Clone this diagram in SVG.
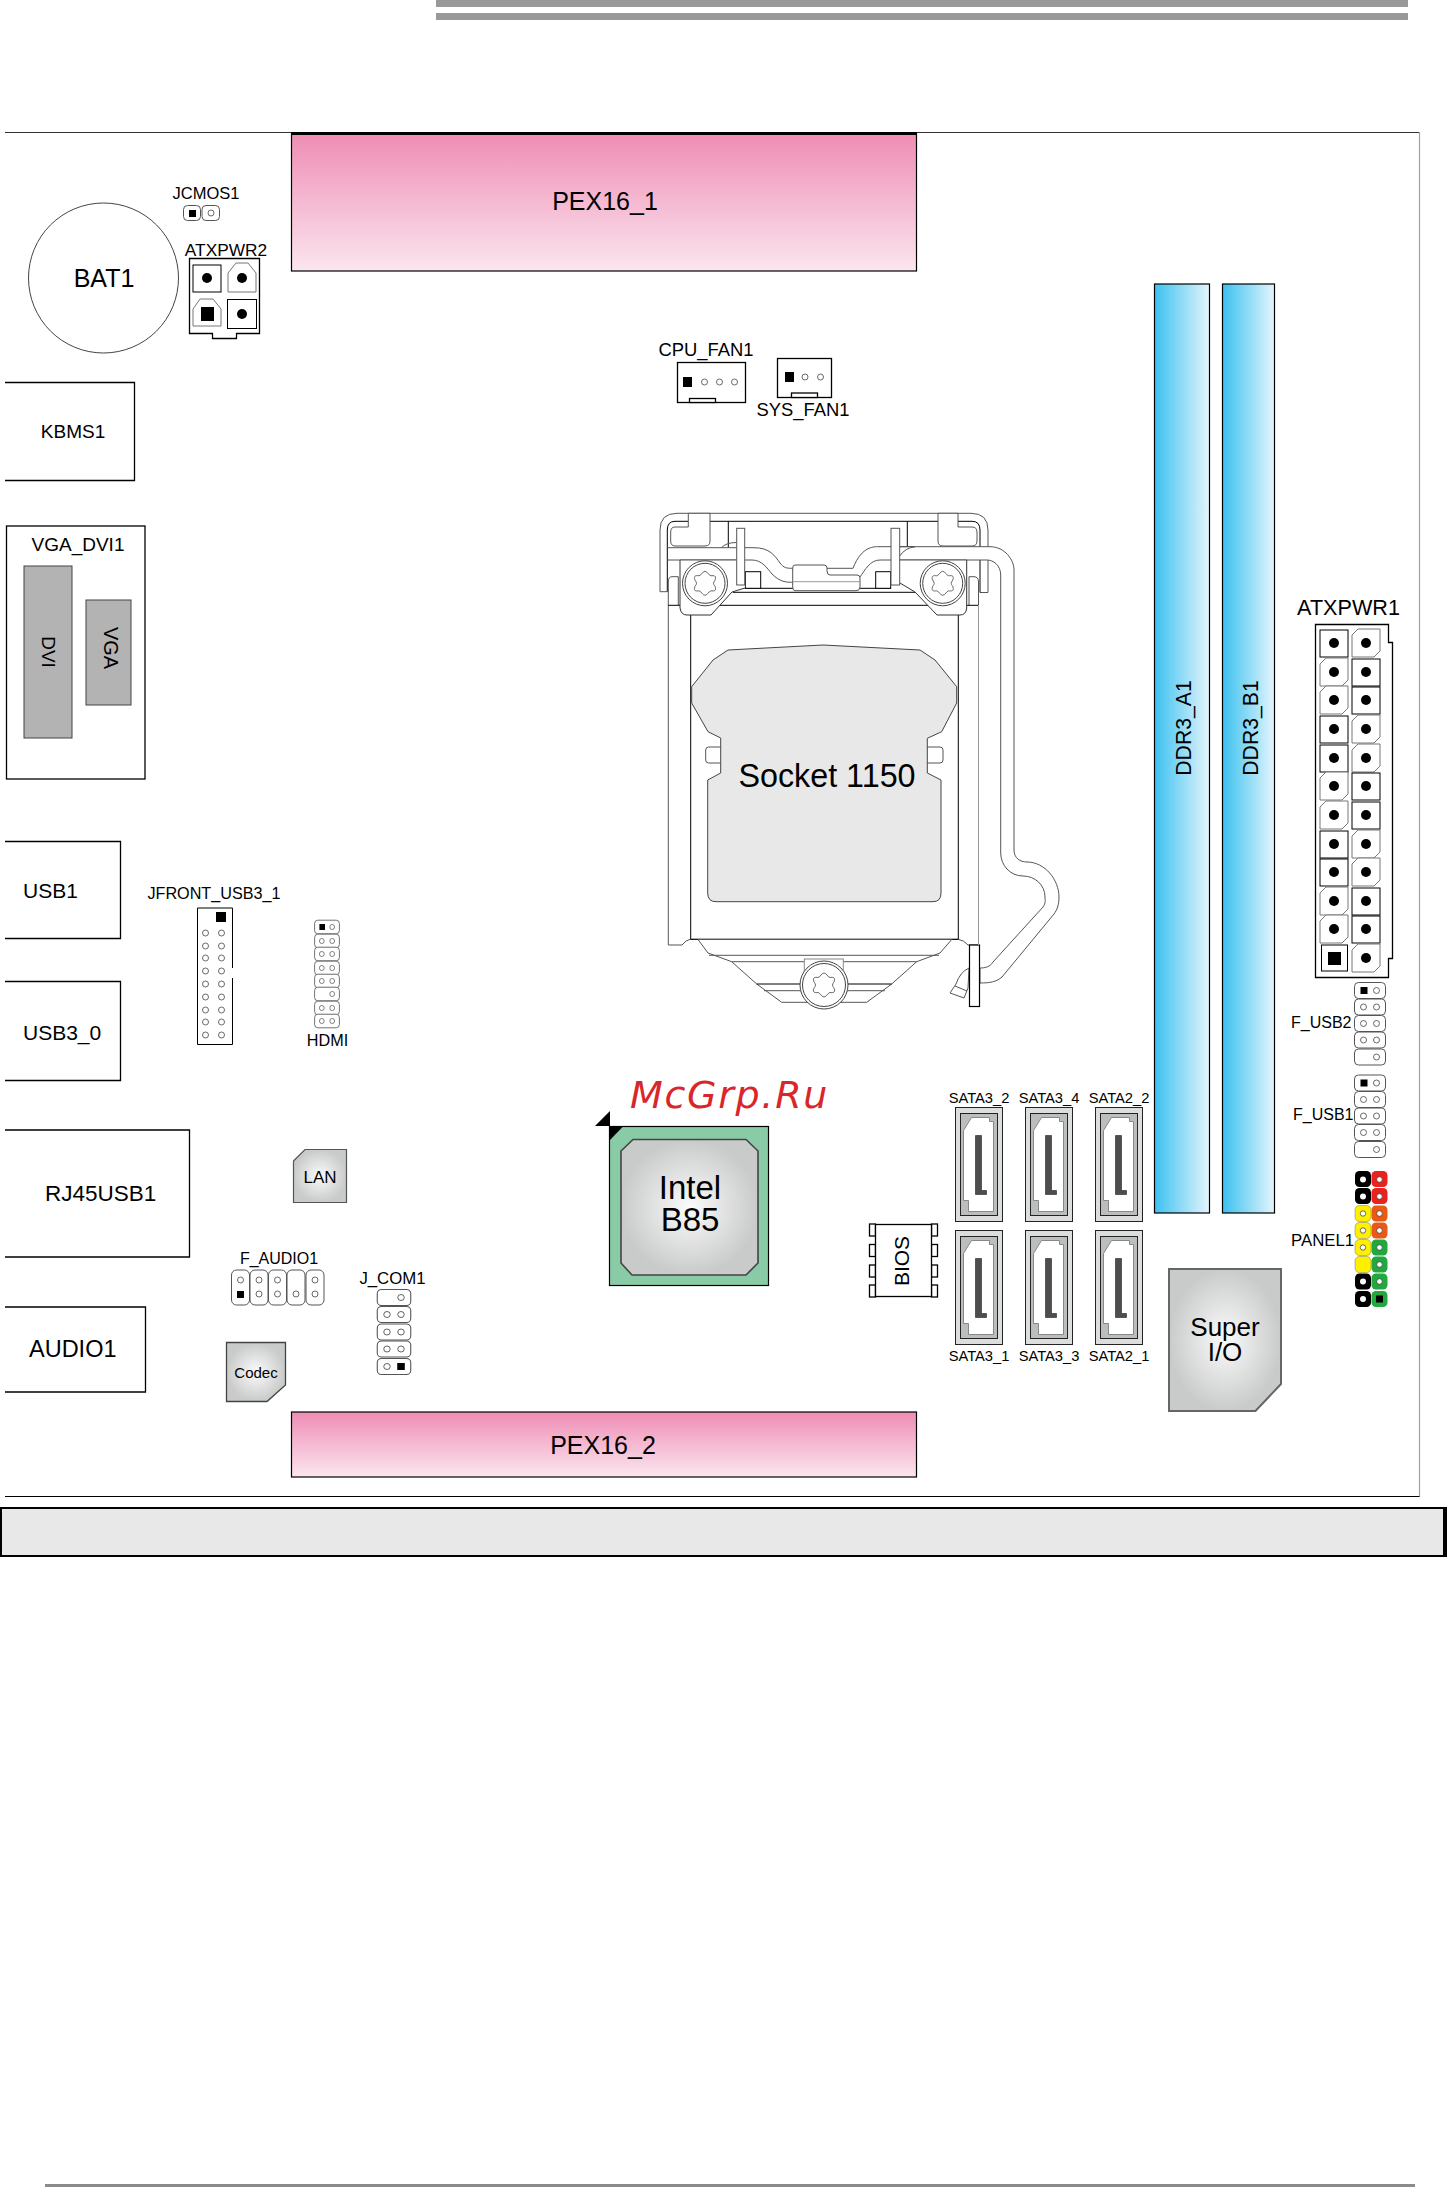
<svg xmlns="http://www.w3.org/2000/svg" xmlns:xlink="http://www.w3.org/1999/xlink" width="1447" height="2187" viewBox="0 0 1447 2187">
<style>
text{font-family:"Liberation Sans",Arial,sans-serif;fill:#000}
.m{text-anchor:middle}
.box{fill:#fff;stroke:#000;stroke-width:1.300}
.hd{fill:#fff;stroke:#555;stroke-width:1}
.p{fill:#fff;stroke:#444;stroke-width:.8}
.w{fill:#fff;stroke:#555;stroke-width:1}
.n{fill:none;stroke:#555;stroke-width:1}
.k{fill:none;stroke:#000;stroke-width:1}
</style>
<defs>
<linearGradient id="pink" x1="0" y1="0" x2="0" y2="1"><stop offset="0" stop-color="#ef8db5"/><stop offset="1" stop-color="#fbe6ef"/></linearGradient>
<linearGradient id="blue" x1="0" y1="0" x2="1" y2="0"><stop offset="0" stop-color="#3cc1f0"/><stop offset="1" stop-color="#e4f5fc"/></linearGradient>
<radialGradient id="chip"><stop offset="0" stop-color="#fbfbfb"/><stop offset="1" stop-color="#c9caca"/></radialGradient>
<g id="star"><path d="M0,-12 C2.500,-12 3.500,-8 6,-7.500 C9,-8 11,-7.500 10.500,-5 C10.500,-2.500 8.500,-2 8.500,0 C8.500,2 10.500,2.500 10.500,5 C11,7.500 9,8 6,7.500 C3.500,8 2.500,12 0,12 C-2.500,12 -3.500,8 -6,7.500 C-9,8 -11,7.500 -10.500,5 C-10.500,2.500 -8.500,2 -8.500,0 C-8.500,-2 -10.500,-2.500 -10.500,-5 C-11,-7.500 -9,-8 -6,-7.500 C-3.500,-8 -2.500,-12 0,-12Z" fill="#fff" stroke="#444" stroke-width=".8"/></g>
<g id="sata">
<rect x="0" y="0" width="47" height="114" fill="#dcdddd" stroke="#222" stroke-width="1"/>
<rect x="5" y="6" width="37" height="102" fill="#bcbdbd" stroke="#222" stroke-width="1"/>
<path d="M16,10 H34 V14 H38 V104 H13 V93 H8 V23Z" fill="#fff" stroke="#888" stroke-width="1"/>
<path d="M20,28 H26 V83 H31 V87 H20Z" fill="#4d4d4d" stroke="#222" stroke-width=".6"/>
</g>
<g id="sq"><rect x="-14" y="-13" width="28" height="27" fill="#fff" stroke="#000" stroke-width="1"/><circle r="5" fill="#000"/></g>
<g id="oc"><path d="M-14,-8 L-8,-14 H14 V8 L8,14 H-14Z" fill="#fff" stroke="#777" stroke-width="1"/><circle r="5" fill="#000"/></g>
<g id="pair"><rect x="-15.500" y="-8" width="31" height="16" rx="4" class="hd"/><circle cx="-6.500" r="3" class="p"/><circle cx="6.500" r="3" class="p"/></g>
<g id="pairR"><rect x="-15.500" y="-8" width="31" height="16" rx="4" class="hd"/><circle cx="6.500" r="3" class="p"/></g>
<g id="pairF"><rect x="-15.500" y="-8" width="31" height="16" rx="4" class="hd"/><rect x="-9.500" y="-3.500" width="7" height="7" fill="#000"/><circle cx="6.500" r="3" class="p"/></g>
</defs>

<g id="page-rules">
<rect x="436" y="0" width="972" height="7" fill="#999"/>
<rect x="436" y="13" width="972" height="7" fill="#999"/>
<rect x="45" y="2184" width="1370" height="3" fill="#8a8a8a"/>
</g>

<g id="board"><path d="M5,132.500 H1419.500" fill="none" stroke="#333" stroke-width="1"/><path d="M1419.500,132.500 V1496.500" fill="none" stroke="#a0a0a0" stroke-width="1.200"/><path d="M5,1496.500 H1419.500" fill="none" stroke="#000" stroke-width="1.200"/></g>

<g id="PEX16_1"><rect x="291.500" y="134" width="625" height="137" fill="url(#pink)" stroke="#000" stroke-width="1.200"/><line x1="291" y1="133.500" x2="917" y2="133.500" stroke="#000" stroke-width="3"/><text class="m" x="605" y="210" font-size="25">PEX16_1</text></g>
<g id="PEX16_2"><rect x="291.500" y="1412" width="625" height="65" fill="url(#pink)" stroke="#000" stroke-width="1.200"/><text class="m" x="603" y="1454" font-size="25">PEX16_2</text></g>

<g id="BAT1"><circle cx="103.500" cy="278" r="75" fill="#fff" stroke="#444" stroke-width="1"/><text class="m" x="104" y="287" font-size="25">BAT1</text></g>

<g id="JCMOS1"><text class="m" x="206" y="199" font-size="16.500">JCMOS1</text>
<rect x="183.500" y="205.500" width="17" height="15" rx="4" class="hd"/><rect x="189" y="210" width="7" height="7" fill="#000"/>
<rect x="202" y="205.500" width="17.500" height="15" rx="4" class="hd"/><circle cx="211" cy="213" r="3" class="p"/></g>

<g id="ATXPWR2"><text class="m" x="226" y="256" font-size="17.300">ATXPWR2</text>
<path d="M189.500,258.500 H259.500 V333.500 H236.500 V338.500 H212.500 V333.500 H189.500Z" class="box"/>
<use xlink:href="#sq" x="207" y="278"/>
<path d="M228,292 V273 L236,263 H248 L256,273 V292Z" fill="#fff" stroke="#777"/><circle cx="242" cy="278" r="5"/>
<path d="M193,326 V309 L200,299 H213 L221,309 V326Z" fill="#fff" stroke="#777"/><rect x="201" y="307" width="13" height="14" fill="#000"/>
<rect x="227.500" y="299.500" width="29" height="29" fill="#fff" stroke="#000"/><circle cx="242" cy="314" r="5"/>
</g>

<g id="KBMS1"><path d="M5,382.500 H134.500 V480.500 H5" class="box"/><text class="m" x="73" y="438" font-size="19">KBMS1</text></g>

<g id="VGA_DVI1"><rect x="6.500" y="526" width="138.500" height="253" class="box"/>
<text class="m" x="78" y="551" font-size="19">VGA_DVI1</text>
<rect x="24" y="566" width="48" height="172" fill="#b3b3b3" stroke="#444"/>
<text class="m" font-size="19" transform="translate(49,652) rotate(90)" y="7">DVI</text>
<rect x="86" y="600" width="45" height="105" fill="#b3b3b3" stroke="#444"/>
<text class="m" font-size="20" transform="translate(111,648) rotate(90)" y="7">VGA</text></g>

<g id="USB1"><path d="M5,841.500 H120.500 V938.500 H5" class="box"/><text x="23" y="898" font-size="21">USB1</text></g>
<g id="USB3_0"><path d="M5,981.500 H120.500 V1080.500 H5" class="box"/><text x="23" y="1040" font-size="21">USB3_0</text></g>
<g id="RJ45USB1"><path d="M5,1130 H189.500 V1257 H5" class="box"/><text x="45" y="1201" font-size="22.500">RJ45USB1</text></g>
<g id="AUDIO1"><path d="M5,1307 H145.500 V1392 H5" class="box"/><text x="29" y="1357" font-size="23.500">AUDIO1</text></g>

<g id="JFRONT_USB3_1"><text class="m" x="214" y="899" font-size="16.200">JFRONT_USB3_1</text>
<path d="M232.500,908 V1044.500 H197.500 V908Z" fill="#fff" stroke="#000" stroke-width="1"/><line x1="232.500" y1="968" x2="232.500" y2="978" stroke="#fff" stroke-width="3"/>
<rect x="216" y="912" width="10" height="10" fill="#000"/>
<g class="pins">
<circle cx="205.500" cy="933" r="3" class="p"/><circle cx="221.500" cy="933" r="3" class="p"/>
<circle cx="205.500" cy="946" r="3" class="p"/><circle cx="221.500" cy="946" r="3" class="p"/>
<circle cx="205.500" cy="958" r="3" class="p"/><circle cx="221.500" cy="958" r="3" class="p"/>
<circle cx="205.500" cy="971" r="3" class="p"/><circle cx="221.500" cy="971" r="3" class="p"/>
<circle cx="205.500" cy="984" r="3" class="p"/><circle cx="221.500" cy="984" r="3" class="p"/>
<circle cx="205.500" cy="997" r="3" class="p"/><circle cx="221.500" cy="997" r="3" class="p"/>
<circle cx="205.500" cy="1010" r="3" class="p"/><circle cx="221.500" cy="1010" r="3" class="p"/>
<circle cx="205.500" cy="1022" r="3" class="p"/><circle cx="221.500" cy="1022" r="3" class="p"/>
<circle cx="205.500" cy="1035" r="3" class="p"/><circle cx="221.500" cy="1035" r="3" class="p"/>
</g></g>

<g id="HDMI">
<use xlink:href="#pairF" transform="translate(327,927) scale(.8,.85)"/>
<use xlink:href="#pair" transform="translate(327,941) scale(.8,.85)"/>
<use xlink:href="#pair" transform="translate(327,954) scale(.8,.85)"/>
<use xlink:href="#pair" transform="translate(327,968) scale(.8,.85)"/>
<use xlink:href="#pair" transform="translate(327,981) scale(.8,.85)"/>
<use xlink:href="#pairR" transform="translate(327,994) scale(.8,.85)"/>
<use xlink:href="#pair" transform="translate(327,1008) scale(.8,.85)"/>
<use xlink:href="#pair" transform="translate(327,1021) scale(.8,.85)"/>
<text class="m" x="327.500" y="1046" font-size="16.200">HDMI</text></g>

<g id="LAN"><path d="M293.500,1161 L305,1149.500 H346.500 V1202.500 H293.500Z" fill="url(#chip)" stroke="#555" stroke-width="1.200"/><text class="m" x="320" y="1183" font-size="17">LAN</text></g>

<g id="F_AUDIO1"><text class="m" x="279" y="1264" font-size="16">F_AUDIO1</text>
<rect x="231.500" y="1270" width="18" height="35" rx="5" class="hd"/><circle cx="240.500" cy="1280" r="3" class="p"/><rect x="237" y="1291" width="7" height="7" fill="#000"/>
<rect x="250" y="1270" width="18" height="35" rx="5" class="hd"/><circle cx="259" cy="1280" r="3" class="p"/><circle cx="259" cy="1294" r="3" class="p"/>
<rect x="268.500" y="1270" width="18" height="35" rx="5" class="hd"/><circle cx="277.500" cy="1280" r="3" class="p"/><circle cx="277.500" cy="1294" r="3" class="p"/>
<rect x="287" y="1270" width="18" height="35" rx="5" class="hd"/><circle cx="296" cy="1294" r="3" class="p"/>
<rect x="306" y="1270" width="18" height="35" rx="5" class="hd"/><circle cx="315" cy="1280" r="3" class="p"/><circle cx="315" cy="1294" r="3" class="p"/></g>

<g id="J_COM1"><text class="m" x="392.500" y="1284" font-size="16.800">J_COM1</text>
<use xlink:href="#pairR" transform="translate(394,1297.500) scale(1.08,1)"/>
<use xlink:href="#pair" transform="translate(394,1314.500) scale(1.08,1)"/>
<use xlink:href="#pair" transform="translate(394,1332) scale(1.08,1)"/>
<use xlink:href="#pair" transform="translate(394,1349) scale(1.08,1)"/>
<g transform="translate(394,1366.500) scale(1.08,1)"><rect x="-15.500" y="-8" width="31" height="16" rx="4" class="hd"/><circle cx="-6.500" r="3" class="p"/><rect x="3" y="-3.500" width="7" height="7" fill="#000"/></g></g>

<g id="Codec"><path d="M226.500,1342.500 H285.500 V1385 L267,1401.500 H226.500Z" fill="url(#chip)" stroke="#444" stroke-width="1.300"/><text class="m" x="256" y="1378" font-size="15">Codec</text></g>

<g id="CPU_FAN1"><text class="m" x="706" y="356" font-size="18.400">CPU_FAN1</text>
<rect x="677.500" y="362.500" width="68" height="40" class="box"/><rect x="689.500" y="398.500" width="26" height="4" class="box"/>
<rect x="683" y="377" width="9" height="10" fill="#000"/><circle cx="704.500" cy="382" r="3" class="p"/><circle cx="719.500" cy="382" r="3" class="p"/><circle cx="734.500" cy="382" r="3" class="p"/></g>
<g id="SYS_FAN1"><rect x="777.500" y="358.500" width="54" height="39" class="box"/><rect x="791.500" y="393" width="26" height="4.500" class="box"/>
<rect x="785" y="372" width="9" height="10" fill="#000"/><circle cx="805" cy="377" r="3" class="p"/><circle cx="820.500" cy="377" r="3" class="p"/>
<text class="m" x="803" y="416" font-size="18.400">SYS_FAN1</text></g>

<g id="Socket1150">
<!-- outer clip -->
<path d="M660,591.700 V530 Q660,513.300 677,513.300 H971 Q988,513.300 988,530 V592.500 H980 V592 H667.300 V591.700Z" fill="#fff" stroke="none"/>
<path d="M667.300,591.700 H660 V530 Q660,513.300 677,513.300 H971 Q988,513.300 988,530 V592.500 H980" class="n"/>
<path d="M667.300,591.700 V530 Q667.300,521.300 675,521.300 H688.300 M710,521.300 H938 M958,521.300 H972 Q980,521.300 980,530 V592.500" class="k" stroke-width="1"/>
<path d="M688.300,513.300 V527 H675 Q670.700,527 670.700,532 V541 Q670.700,546 675,546 H705 Q710,546 710,541 V513.300Z" class="w"/>
<path d="M958,513.300 V527 H972 Q977,527 977,532 V541 Q977,546 972,546 H943 Q938,546 938,541 V513.300Z" class="w"/>
<path d="M728.300,521.300 V547.700 M907.300,521.300 V547.700" class="k"/>
<!-- band left -->
<path d="M667.300,547.700 H736.700 M667.300,560 H736.700 M721.500,547.700 Q726,542.500 736.700,542.500 M721.500,560 Q726,565 736.700,565" class="n"/>
<path d="M744.700,547.700 H754 C770,547.700 775,556 780,563 C784,568 786,568.300 793,568.300 H853" class="n"/>
<path d="M744.700,560 H752 C762,560 767,568 772,574 C780,582 786,582.300 793,582.300" class="n"/>
<!-- body -->
<path d="M668.300,605 V945 H682 Q686,940 690,939.300 H958 Q964,940 968,945 H978.500 V605Z" fill="#fff" stroke="none"/>
<path d="M668.300,582 V945 H682 Q686,940 690,939.300 H958 Q964,940 968,945 H978.500 V582" class="n"/>
<path d="M668.300,582 Q668.300,576.700 672,576.700 H678.300 V605.300 M978.500,582 Q978.500,576.700 974,576.700 H969 V605.300" class="n"/>
<path d="M668.300,605.300 H978.500" class="k"/>
<path d="M690.700,605.300 V939.300 H958.300 V605.300" class="k" stroke-width="1.200"/>
<!-- wire/lever -->
<path d="M853,568.300 C862,545 875,546.700 880,546.700 H990 C1005,546.700 1014,560 1014,570 V850 C1014,858 1020,862 1027,862 C1045,862 1059,880 1059,897 C1059,905 1057,910 1054,914 L1002,977 C996,982 990,983 980,983 V968 C985,968 990,967 993,962 L1043,907 C1046,903 1045,900 1045,897 C1045,885 1035,876 1023,876 C1010,876 1000.700,865 1000.700,853 V575 C1000.700,565 993,560 987,560 H880 C870,560 865,570 860,577" class="w"/>
<path d="M969,968 Q960,972 956,984 L950,993 L964,998 L968,988Z" class="w"/>
<path d="M955,986 L967,991" class="n"/>
<rect x="969.500" y="945" width="10" height="61.500" fill="#fff" stroke="#000" stroke-width="1.200"/>
<line x1="978.500" y1="605" x2="978.500" y2="945" stroke="#999"/>
<!-- heatspreader -->
<rect x="705.700" y="747" width="18" height="16" rx="3" class="w"/>
<rect x="925" y="747" width="18" height="16" rx="3" class="w"/>
<path d="M713,660 L728,650 L823,645 L920,650 L935,660 L956.700,686.700 V703 L941.700,731.700 L927.300,738.300 V773 L941,780 V893 Q941,901.700 933,901.700 H716 Q707.700,901.700 707.700,893 V780 L720.700,773 V738 L708,731.700 L691.700,703 V686.700Z" fill="#e9e8e9" stroke="#444" stroke-width="1"/>
<text class="m" x="827" y="787" font-size="32.300">Socket 1150</text>
<!-- bottom retention -->
<path d="M698,939.500 L708,953 L731.700,961.700 L756.700,984 L781.700,1002.300 H866.700 L891.700,984 L916.700,961.700 L940,953 L951.700,939.500Z" class="w"/>
<path d="M709,955.300 H939 M731.700,961.700 H916.700" class="n"/>
<path d="M756.700,984 H891.700" class="k"/>
<path d="M764,990.700 H885" class="n"/>
<rect x="804.300" y="959" width="39" height="16" fill="#fff" stroke="#888"/>
<circle cx="824" cy="985" r="24" fill="#fff" stroke="#444"/><circle cx="824" cy="985" r="21.500" fill="#fff" stroke="#444"/><use xlink:href="#star" x="824" y="985"/>
<!-- latch area -->
<path d="M733,592.300 H917" class="k"/>
<path d="M745.300,588.300 H890.700" class="k"/>
<rect x="745.300" y="571.700" width="15.400" height="16.600" fill="#fff" stroke="#000"/>
<rect x="875.700" y="571.700" width="15" height="16.600" fill="#fff" stroke="#000"/>
<path d="M795,565 H824 Q827,565 827,568 V571 Q827,575 830,575 H857 Q860,575 860,578 V587 Q860,590.700 856,590.700 H795 Q792.700,590.700 792.700,587 V568 Q792.700,565 795,565Z" class="w"/>
<path d="M792.700,581.700 H860" fill="none" stroke="#999"/>
<!-- screw plates -->
<path d="M680,560 V608 Q681,615 687,615 H711 L732,592 L745,588 V560Z" fill="#fff" stroke="none"/>
<path d="M680,560 V608 Q681,615 687,615 H711 L732,592 L745,588" class="n" style="stroke:#333"/>
<path d="M966.700,560 V608 Q966,615 960,615 H937 L915,592 L900,583 V560Z" fill="#fff" stroke="none"/>
<path d="M966.700,560 V608 Q966,615 960,615 H937 L915,592 L900,583" class="n" style="stroke:#333"/>
<path d="M680,560 H736.700 M899.700,560 H966.700" class="n"/>
<path d="M899.700,546.700 H915 Q905,548 899.700,556" class="n"/>
<rect x="736.700" y="528.300" width="8" height="56.700" class="w"/>
<rect x="891" y="528.300" width="8.700" height="56.700" class="w"/>
<circle cx="705" cy="583.300" r="22.500" fill="#fff" stroke="#444"/><circle cx="705" cy="583.300" r="20" fill="#fff" stroke="#444"/><use xlink:href="#star" x="705" y="583.300"/>
<circle cx="942.700" cy="583.300" r="22.500" fill="#fff" stroke="#444"/><circle cx="942.700" cy="583.300" r="20" fill="#fff" stroke="#444"/><use xlink:href="#star" x="942.700" y="583.300"/>
</g>

<g id="DDR3_A1"><rect x="1154.500" y="284" width="55" height="929" fill="url(#blue)" stroke="#000" stroke-width="1.200"/><text class="m" font-size="21.200" transform="translate(1191,728) rotate(-90)">DDR3_A1</text></g>
<g id="DDR3_B1"><rect x="1222.500" y="284" width="52" height="929" fill="url(#blue)" stroke="#000" stroke-width="1.200"/><text class="m" font-size="21.200" transform="translate(1258,728) rotate(-90)">DDR3_B1</text></g>

<g id="ATXPWR1"><text class="m" x="1348.500" y="615" font-size="21.600">ATXPWR1</text>
<path d="M1315.500,624.500 H1388.500 V642.500 H1392.500 V958.500 H1388.500 V977.500 H1315.500Z" class="box"/>
<use xlink:href="#sq" x="1334" y="643"/><use xlink:href="#oc" x="1366" y="643"/>
<use xlink:href="#oc" x="1334" y="672"/><use xlink:href="#sq" x="1366" y="672"/>
<use xlink:href="#oc" x="1334" y="700"/><use xlink:href="#sq" x="1366" y="700"/>
<use xlink:href="#sq" x="1334" y="729"/><use xlink:href="#oc" x="1366" y="729"/>
<use xlink:href="#sq" x="1334" y="758"/><use xlink:href="#oc" x="1366" y="758"/>
<use xlink:href="#oc" x="1334" y="786"/><use xlink:href="#sq" x="1366" y="786"/>
<use xlink:href="#oc" x="1334" y="815"/><use xlink:href="#sq" x="1366" y="815"/>
<use xlink:href="#sq" x="1334" y="844"/><use xlink:href="#oc" x="1366" y="844"/>
<use xlink:href="#sq" x="1334" y="872"/><use xlink:href="#oc" x="1366" y="872"/>
<use xlink:href="#oc" x="1334" y="901"/><use xlink:href="#sq" x="1366" y="901"/>
<use xlink:href="#oc" x="1334" y="929"/><use xlink:href="#sq" x="1366" y="929"/>
<rect x="1321.500" y="945" width="26" height="26" fill="#fff" stroke="#000"/><rect x="1328" y="952" width="13" height="13" fill="#000"/>
<use xlink:href="#oc" x="1366" y="958"/>
</g>

<g id="F_USB2"><text x="1291" y="1028" font-size="16">F_USB2</text>
<use xlink:href="#pairF" x="1370" y="990.500"/><use xlink:href="#pair" x="1370" y="1007"/><use xlink:href="#pair" x="1370" y="1023.500"/><use xlink:href="#pair" x="1370" y="1040"/><use xlink:href="#pairR" x="1370" y="1057"/></g>
<g id="F_USB1"><text x="1293" y="1120" font-size="16">F_USB1</text>
<use xlink:href="#pairF" x="1370" y="1083"/><use xlink:href="#pair" x="1370" y="1099.500"/><use xlink:href="#pair" x="1370" y="1116"/><use xlink:href="#pair" x="1370" y="1132.500"/><use xlink:href="#pairR" x="1370" y="1149.500"/></g>

<g id="PANEL1"><text x="1291" y="1246" font-size="16.800">PANEL1</text>
<g id="panel-left">
<rect x="1355" y="1171" width="16" height="16" rx="4.500" fill="#000"/><circle cx="1363" cy="1179.500" r="3" fill="#fff"/>
<rect x="1355" y="1188" width="16" height="16" rx="4.500" fill="#000"/><circle cx="1363" cy="1196.500" r="3" fill="#fff"/>
<rect x="1355" y="1205.500" width="16" height="16" rx="4.500" fill="#fff000" stroke="#555" stroke-width=".4"/><circle cx="1363" cy="1213.500" r="2.700" fill="#fff" stroke="#444" stroke-width=".8"/>
<rect x="1355" y="1222.500" width="16" height="16" rx="4.500" fill="#fff000" stroke="#555" stroke-width=".4"/><circle cx="1363" cy="1230.500" r="2.700" fill="#fff" stroke="#444" stroke-width=".8"/>
<rect x="1355" y="1239.500" width="16" height="16" rx="4.500" fill="#fff000" stroke="#555" stroke-width=".4"/><circle cx="1363" cy="1247.500" r="2.700" fill="#fff" stroke="#444" stroke-width=".8"/>
<rect x="1355" y="1256.500" width="16" height="16" rx="4.500" fill="#fff000" stroke="#555" stroke-width=".4"/>
<rect x="1355" y="1273.500" width="16" height="16" rx="4.500" fill="#000"/><circle cx="1363" cy="1281.500" r="3" fill="#fff"/>
<rect x="1355" y="1291" width="16" height="16" rx="4.500" fill="#000"/><circle cx="1363" cy="1299" r="3" fill="#fff"/>
</g>
<g id="panel-right">
<rect x="1371.500" y="1171" width="16" height="16" rx="4.500" fill="#e8231e"/><circle cx="1379.500" cy="1179.500" r="2.800" fill="#fff" stroke="#333" stroke-width=".7"/>
<rect x="1371.500" y="1188" width="16" height="16" rx="4.500" fill="#e8231e"/><circle cx="1379.500" cy="1196.500" r="2.800" fill="#fff" stroke="#333" stroke-width=".7"/>
<rect x="1371.500" y="1205.500" width="16" height="16" rx="4.500" fill="#ea5a17"/><circle cx="1379.500" cy="1213.500" r="2.800" fill="#fff" stroke="#333" stroke-width=".7"/>
<rect x="1371.500" y="1222.500" width="16" height="16" rx="4.500" fill="#ea5a17"/><circle cx="1379.500" cy="1230.500" r="2.800" fill="#fff" stroke="#333" stroke-width=".7"/>
<rect x="1371.500" y="1239.500" width="16" height="16" rx="4.500" fill="#22a83f"/><circle cx="1379.500" cy="1247.500" r="2.800" fill="#fff" stroke="#333" stroke-width=".7"/>
<rect x="1371.500" y="1256.500" width="16" height="16" rx="4.500" fill="#22a83f"/><circle cx="1379.500" cy="1264.500" r="2.800" fill="#fff" stroke="#333" stroke-width=".7"/>
<rect x="1371.500" y="1273.500" width="16" height="16" rx="4.500" fill="#22a83f"/><circle cx="1379.500" cy="1281.500" r="2.800" fill="#fff" stroke="#333" stroke-width=".7"/>
<rect x="1371.500" y="1291" width="16" height="16" rx="4.500" fill="#22a83f"/><rect x="1376" y="1295.500" width="7" height="7" fill="#000"/>
</g></g>

<g id="IntelB85"><rect x="609.500" y="1126.500" width="159" height="159" fill="#8acba7" stroke="#000" stroke-width="1.200"/>
<path d="M610,1140 V1126.500 H623Z" fill="#000"/><path d="M595,1126 L610,1111 V1126Z" fill="#000"/>
<path d="M633,1139.500 H746 L758,1151 V1263 L746,1275 H632 L621,1263 V1151Z" fill="url(#chip)" stroke="#444" stroke-width="1.600"/>
<text class="m" x="690" y="1199" font-size="33">Intel</text><text class="m" x="690" y="1231" font-size="33">B85</text></g>

<g id="BIOS"><rect x="869.500" y="1224" width="6" height="12" class="box"/><rect x="869.500" y="1244.500" width="6" height="12" class="box"/><rect x="869.500" y="1265" width="6" height="12" class="box"/><rect x="869.500" y="1285" width="6" height="12" class="box"/>
<rect x="931.500" y="1224" width="6" height="12" class="box"/><rect x="931.500" y="1244.500" width="6" height="12" class="box"/><rect x="931.500" y="1265" width="6" height="12" class="box"/><rect x="931.500" y="1285" width="6" height="12" class="box"/>
<rect x="875.500" y="1224.500" width="56" height="72" class="box"/>
<text class="m" font-size="21" transform="translate(909,1261) rotate(-90)">BIOS</text></g>

<g id="SATA3_2"><text class="m" x="979" y="1103" font-size="14.700">SATA3_2</text><use xlink:href="#sata" x="955.500" y="1107.500"/></g>
<g id="SATA3_4"><text class="m" x="1049" y="1103" font-size="14.700">SATA3_4</text><use xlink:href="#sata" x="1025.500" y="1107.500"/></g>
<g id="SATA2_2"><text class="m" x="1119" y="1103" font-size="14.700">SATA2_2</text><use xlink:href="#sata" x="1095.500" y="1107.500"/></g>
<g id="SATA3_1"><use xlink:href="#sata" x="955.500" y="1230.500"/><text class="m" x="979" y="1361" font-size="14.700">SATA3_1</text></g>
<g id="SATA3_3"><use xlink:href="#sata" x="1025.500" y="1230.500"/><text class="m" x="1049" y="1361" font-size="14.700">SATA3_3</text></g>
<g id="SATA2_1"><use xlink:href="#sata" x="1095.500" y="1230.500"/><text class="m" x="1119" y="1361" font-size="14.700">SATA2_1</text></g>

<g id="SuperIO"><path d="M1169,1269 H1281 V1384 L1255.500,1411 H1169Z" fill="url(#chip)" stroke="#666" stroke-width="2"/>
<text class="m" x="1225" y="1336" font-size="26">Super</text><text class="m" x="1225" y="1361" font-size="26">I/O</text></g>

<g id="watermark"><text x="630" y="1108" font-size="38" font-style="italic" style="font-family:'DejaVu Sans',sans-serif;fill:#d9262c;letter-spacing:1.700px">McGrp.Ru</text></g>

<g id="caption"><rect x="0" y="1507" width="1447" height="50" fill="#000"/><rect x="2" y="1509" width="1441" height="46" fill="#e8e8e8"/></g>
</svg>
